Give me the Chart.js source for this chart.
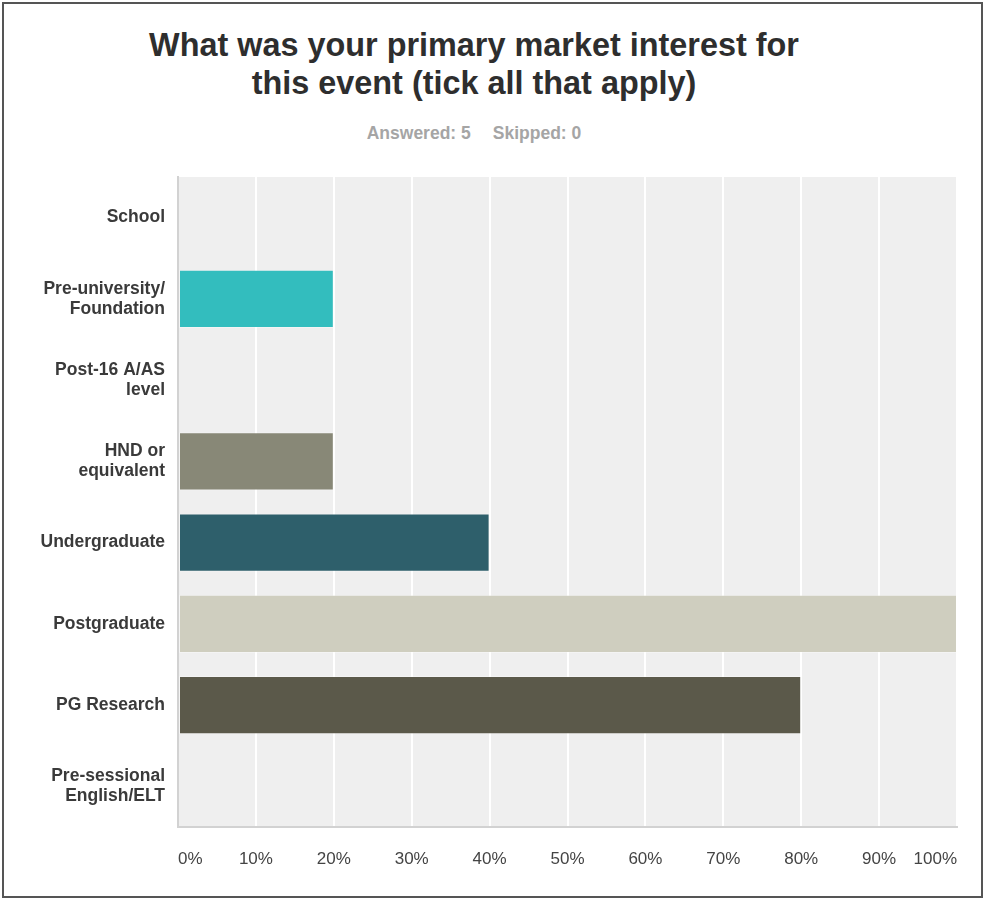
<!DOCTYPE html>
<html>
<head>
<meta charset="utf-8">
<script src="https://cdn.jsdelivr.net/npm/chart.js@4"></script>
<style>
  html,body{margin:0;padding:0;background:#fff;}
  #wrap{position:relative;width:984px;height:900px;overflow:hidden;font-family:"Liberation Sans",Arial,sans-serif;}
  #frame{position:absolute;left:2px;top:2px;width:977px;height:892px;border:2px solid #555;}
  #title{position:absolute;left:0;top:26px;width:948px;text-align:center;font-size:32.4px;font-weight:bold;line-height:38px;color:#2e2e2e;}
  #sub{position:absolute;left:0;top:123px;width:948px;text-align:center;font-size:17.5px;font-weight:bold;line-height:20px;color:#a5a5a5;}
  #sub span+span{margin-left:22px;}
  #cv{position:absolute;left:0;top:0;}
</style>
</head>
<body>
<div id="wrap">
  <div id="frame"></div>
  <div id="title">What was your primary market interest for<br>this event (tick all that apply)</div>
  <div id="sub"><span>Answered: 5</span><span>Skipped: 0</span></div>
  <canvas id="cv" width="984" height="900"></canvas>
</div>
<script>
// answer choices, share of respondents (%) and bar colours
const categories = [
  "School",
  ["Pre-university/", "Foundation"],
  ["Post-16 A/AS", "level"],
  ["HND or", "equivalent"],
  "Undergraduate",
  "Postgraduate",
  "PG Research",
  ["Pre-sessional", "English/ELT"]
];
const percents = [0, 20, 0, 20, 40, 100, 80, 0];
const barColors = ["#1f8f99", "#33bdbe", "#6f8f3a", "#888877", "#2e5f6b", "#cfcebf", "#5b594a", "#9aa7b0"];
const xTicks = [0, 10, 20, 30, 40, 50, 60, 70, 80, 90, 100];

const FONT = '"Liberation Sans", Arial, sans-serif';

// grey plot background behind the grid
const plotBg = {
  id: "plotBg",
  beforeDraw(chart){
    const a = chart.chartArea, ctx = chart.ctx;
    ctx.save();
    ctx.fillStyle = "#efefef";
    ctx.fillRect(a.left, a.top, a.right - a.left, a.bottom - a.top);
    ctx.restore();
  }
};

new Chart(document.getElementById("cv"), {
  type: "bar",
  data: {
    labels: categories,
    datasets: [{
      data: percents,
      backgroundColor: barColors,
      borderColor: "rgba(255,255,255,0.3)",
      borderWidth: 1,
      borderSkipped: false,
      barPercentage: 0.714,
      categoryPercentage: 1
    }]
  },
  options: {
    indexAxis: "y",
    responsive: false,
    animation: false,
    layout: { padding: { top: 177, right: 27, bottom: 0, left: 0 } },
    plugins: { legend: { display: false }, tooltip: { enabled: false } },
    scales: {
      x: {
        min: 0, max: 100,
        afterBuildTicks(s){ s.ticks = xTicks.map(v => ({ value: v })); },
        afterFit(s){ s.height = 73; },
        grid: { color: "#ffffff", lineWidth: 2, drawTicks: false },
        border: { color: "#d2d2d2", width: 2 },
        ticks: {
          padding: 22,
          align: "inner",
          color: "#444",
          font: { family: FONT, size: 17 },
          callback: v => v + "%"
        }
      },
      y: {
        afterFit(s){ s.width = 178; },
        grid: { display: false, drawTicks: false },
        border: { color: "#d2d2d2", width: 2 },
        ticks: {
          padding: 13,
          color: "#3a3a3a",
          font: { family: FONT, size: 17.5, weight: "bold", lineHeight: 1.15 }
        }
      }
    }
  },
  plugins: [plotBg]
});
</script>
</body>
</html>
